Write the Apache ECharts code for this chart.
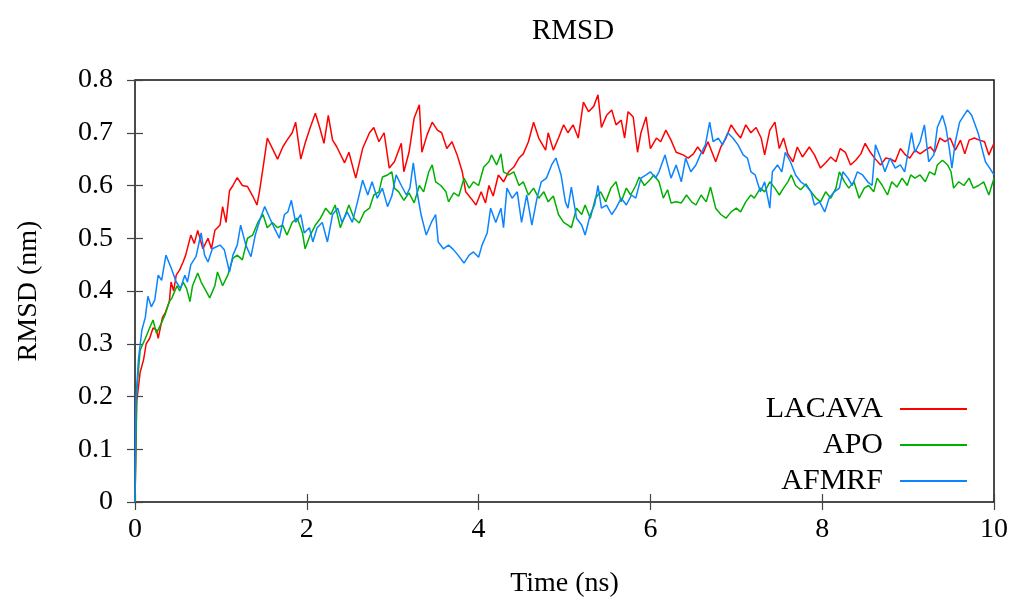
<!DOCTYPE html>
<html>
<head>
<meta charset="utf-8">
<title>RMSD</title>
<script src="https://cdn.jsdelivr.net/npm/echarts@6/dist/echarts.min.js"></script>
<style>
    html, body { margin: 0; padding: 0; background: #fff; }
    #main { width: 1011px; height: 603px; }
</style>
</head>
<body>
<div id="main"></div>
<script>
// time (ns) / rmsd (nm)
var lacavaTime = [0,0.02,0.06,0.1,0.13,0.17,0.21,0.25,0.27,0.32,0.35,0.4,0.42,0.45,0.48,0.52,0.56,0.59,0.65,0.69,0.73,0.79,0.85,0.89,0.93,0.99,
    1.02,1.06,1.1,1.14,1.19,1.25,1.31,1.37,1.42,1.45,1.49,1.54,1.6,1.66,1.72,1.77,1.83,1.87,1.93,1.98,
    2.04,2.1,2.15,2.2,2.25,2.3,2.35,2.44,2.49,2.57,2.65,2.73,2.78,2.84,2.9,2.96,
    3.02,3.1,3.13,3.19,3.25,3.31,3.34,3.4,3.46,3.52,3.57,3.63,3.69,3.75,3.81,3.85,3.91,3.97,
    4.03,4.08,4.12,4.17,4.23,4.29,4.35,4.41,4.47,4.52,4.58,4.64,4.7,4.78,4.81,4.87,4.93,4.99,
    5.04,5.1,5.16,5.22,5.28,5.34,5.39,5.43,5.49,5.55,5.6,5.66,5.7,5.74,5.8,5.85,5.89,5.95,
    6,6.07,6.12,6.18,6.24,6.3,6.38,6.44,6.5,6.55,6.61,6.67,6.73,6.76,6.82,6.88,6.94,
    7,7.05,7.11,7.17,7.23,7.29,7.33,7.39,7.45,7.5,7.55,7.6,7.66,7.71,7.77,7.85,7.91,7.98,
    8.04,8.1,8.16,8.21,8.27,8.33,8.39,8.45,8.5,8.56,8.62,8.68,8.74,8.8,8.85,8.91,8.97,
    9.02,9.08,9.14,9.2,9.26,9.31,9.37,9.43,9.49,9.55,9.61,9.66,9.71,9.77,9.83,9.89,9.94,10];
var lacavaRmsd = [0,0.19,0.246,0.27,0.3,0.31,0.33,0.326,0.31,0.35,0.358,0.38,0.417,0.4,0.43,0.44,0.455,0.468,0.506,0.49,0.515,0.48,0.5,0.48,0.515,0.525,
    0.56,0.53,0.59,0.6,0.615,0.6,0.598,0.58,0.563,0.59,0.633,0.69,0.67,0.65,0.673,0.686,0.7,0.72,0.65,0.68,
    0.71,0.737,0.71,0.68,0.733,0.686,0.673,0.643,0.663,0.614,0.67,0.7,0.71,0.683,0.7,0.633,
    0.645,0.68,0.626,0.663,0.728,0.753,0.663,0.696,0.72,0.705,0.7,0.67,0.683,0.658,0.626,0.588,0.576,0.563,
    0.588,0.567,0.6,0.58,0.62,0.607,0.626,0.635,0.652,0.66,0.683,0.72,0.69,0.667,0.7,0.667,0.69,0.715,
    0.7,0.715,0.69,0.758,0.74,0.75,0.772,0.71,0.733,0.743,0.715,0.724,0.69,0.74,0.73,0.663,0.7,0.73,
    0.67,0.69,0.683,0.705,0.686,0.663,0.658,0.652,0.66,0.673,0.66,0.683,0.658,0.645,0.673,0.69,0.715,
    0.7,0.69,0.715,0.7,0.71,0.69,0.658,0.705,0.72,0.67,0.69,0.66,0.645,0.673,0.654,0.673,0.658,0.633,
    0.643,0.654,0.645,0.67,0.663,0.639,0.648,0.66,0.68,0.663,0.65,0.639,0.652,0.65,0.645,0.67,0.658,
    0.652,0.667,0.66,0.667,0.673,0.663,0.69,0.683,0.69,0.667,0.686,0.66,0.686,0.69,0.686,0.683,0.658,0.68];

var apoTime = [0,0.02,0.06,0.12,0.17,0.21,0.25,0.31,0.35,0.4,0.43,0.49,0.52,0.56,0.6,0.64,0.67,0.73,0.77,0.81,0.87,0.93,0.96,
    1.02,1.08,1.14,1.19,1.25,1.31,1.37,1.43,1.49,1.54,1.6,1.66,1.72,1.77,1.83,1.89,1.95,1.98,
    2.04,2.1,2.16,2.22,2.28,2.33,2.39,2.45,2.49,2.55,2.61,2.67,2.73,2.78,2.84,2.88,2.94,2.99,
    3.02,3.07,3.13,3.19,3.25,3.31,3.36,3.42,3.46,3.5,3.56,3.62,3.65,3.71,3.77,3.83,3.89,3.94,
    4,4.06,4.12,4.15,4.21,4.26,4.29,4.35,4.41,4.47,4.52,4.58,4.64,4.7,4.76,4.81,4.87,4.93,4.99,
    5.04,5.08,5.14,5.2,5.24,5.3,5.36,5.42,5.48,5.54,5.6,5.66,5.72,5.77,5.83,5.87,5.93,5.99,
    6.04,6.1,6.15,6.2,6.24,6.3,6.36,6.42,6.48,6.53,6.59,6.65,6.7,6.76,6.82,6.88,6.94,
    7,7.05,7.11,7.17,7.21,7.28,7.33,7.39,7.45,7.5,7.55,7.6,7.64,7.69,7.75,7.81,7.87,7.93,7.98,
    8.04,8.1,8.16,8.2,8.26,8.31,8.37,8.43,8.49,8.54,8.6,8.64,8.7,8.76,8.81,8.87,8.93,8.99,
    9.03,9.08,9.14,9.2,9.25,9.31,9.34,9.4,9.46,9.5,9.53,9.59,9.65,9.71,9.76,9.82,9.88,9.94,10];
var apoRmsd = [0,0.21,0.288,0.31,0.33,0.345,0.32,0.34,0.355,0.38,0.387,0.41,0.4,0.417,0.405,0.38,0.41,0.434,0.417,0.405,0.387,0.41,0.436,
    0.41,0.43,0.462,0.468,0.459,0.5,0.506,0.53,0.545,0.52,0.53,0.52,0.525,0.506,0.53,0.538,0.51,0.48,
    0.506,0.525,0.538,0.557,0.545,0.563,0.52,0.545,0.563,0.538,0.529,0.55,0.557,0.582,0.588,0.616,0.62,0.626,
    0.595,0.588,0.572,0.586,0.567,0.6,0.588,0.626,0.639,0.607,0.6,0.588,0.569,0.586,0.58,0.614,0.595,0.607,
    0.6,0.635,0.645,0.658,0.639,0.66,0.626,0.62,0.626,0.6,0.607,0.582,0.595,0.576,0.588,0.569,0.58,0.545,0.53,
    0.525,0.52,0.557,0.545,0.563,0.538,0.576,0.588,0.569,0.595,0.607,0.569,0.595,0.582,0.6,0.616,0.6,0.61,
    0.62,0.607,0.576,0.592,0.567,0.569,0.567,0.582,0.569,0.563,0.582,0.569,0.597,0.557,0.545,0.538,0.55,
    0.557,0.55,0.569,0.582,0.576,0.595,0.588,0.607,0.595,0.582,0.595,0.607,0.62,0.6,0.592,0.603,0.588,0.576,0.569,
    0.588,0.576,0.595,0.626,0.607,0.595,0.607,0.576,0.595,0.6,0.588,0.614,0.6,0.582,0.607,0.597,0.614,0.6,
    0.62,0.614,0.62,0.607,0.626,0.62,0.639,0.648,0.639,0.626,0.595,0.607,0.6,0.614,0.595,0.6,0.607,0.582,0.614];

var afmrfTime = [0,0.01,0.04,0.08,0.12,0.15,0.19,0.23,0.27,0.31,0.36,0.42,0.48,0.53,0.58,0.61,0.65,0.71,0.77,0.81,0.85,0.9,0.99,
    1.04,1.1,1.14,1.19,1.23,1.29,1.35,1.4,1.46,1.51,1.57,1.62,1.68,1.74,1.78,1.82,1.87,1.93,1.97,
    2.03,2.07,2.12,2.18,2.24,2.3,2.36,2.41,2.47,2.53,2.59,2.65,2.71,2.76,2.82,2.88,2.94,2.99,
    3.04,3.1,3.16,3.2,3.24,3.29,3.33,3.39,3.45,3.5,3.53,3.59,3.65,3.71,3.76,3.83,3.89,3.94,
    4,4.04,4.1,4.14,4.2,4.26,4.29,4.33,4.39,4.45,4.5,4.56,4.62,4.68,4.73,4.79,4.85,4.9,4.96,
    5.01,5.04,5.08,5.14,5.2,5.24,5.3,5.35,5.39,5.43,5.49,5.55,5.6,5.66,5.72,5.78,5.83,5.89,5.95,
    6,6.06,6.1,6.17,6.2,6.24,6.3,6.36,6.41,6.47,6.53,6.58,6.64,6.69,6.73,6.79,6.84,6.9,6.96,
    7.02,7.08,7.13,7.17,7.22,7.28,7.33,7.39,7.42,7.48,7.53,7.57,7.63,7.69,7.75,7.81,7.87,7.91,7.97,
    8.03,8.08,8.14,8.2,8.24,8.3,8.35,8.41,8.47,8.53,8.58,8.62,8.68,8.73,8.79,8.85,8.91,8.96,
    9,9.04,9.08,9.14,9.19,9.24,9.3,9.34,9.4,9.44,9.48,9.51,9.55,9.6,9.65,9.69,9.74,9.78,9.82,9.86,9.9,9.95,10];
var afmrfRmsd = [0,0.19,0.27,0.326,0.35,0.39,0.37,0.383,0.43,0.42,0.468,0.444,0.417,0.405,0.43,0.417,0.45,0.465,0.51,0.468,0.455,0.48,0.487,
    0.478,0.436,0.468,0.487,0.525,0.487,0.465,0.506,0.538,0.56,0.538,0.52,0.5,0.545,0.55,0.572,0.53,0.545,0.51,
    0.52,0.493,0.52,0.53,0.493,0.545,0.557,0.53,0.55,0.53,0.569,0.61,0.582,0.607,0.576,0.595,0.56,0.58,
    0.62,0.6,0.582,0.595,0.643,0.582,0.545,0.506,0.53,0.545,0.493,0.48,0.487,0.478,0.468,0.453,0.468,0.474,
    0.464,0.487,0.51,0.557,0.53,0.557,0.52,0.595,0.576,0.588,0.53,0.582,0.525,0.576,0.607,0.614,0.639,0.652,0.62,
    0.569,0.557,0.597,0.538,0.525,0.506,0.545,0.563,0.6,0.557,0.563,0.545,0.557,0.576,0.563,0.582,0.576,0.614,0.62,
    0.626,0.614,0.626,0.658,0.639,0.614,0.639,0.607,0.652,0.626,0.639,0.658,0.677,0.72,0.683,0.69,0.677,0.7,0.69,
    0.677,0.658,0.652,0.626,0.62,0.588,0.607,0.557,0.626,0.639,0.626,0.663,0.645,0.62,0.607,0.6,0.588,0.563,0.569,
    0.55,0.576,0.588,0.595,0.626,0.614,0.6,0.626,0.62,0.607,0.6,0.677,0.652,0.626,0.652,0.633,0.639,0.626,
    0.663,0.7,0.663,0.683,0.715,0.645,0.658,0.71,0.733,0.71,0.67,0.633,0.683,0.72,0.733,0.743,0.733,0.715,0.697,0.67,0.645,0.633,0.62];

var xTicks = [0, 2, 4, 6, 8, 10];
var yTicks = [0, 0.1, 0.2, 0.3, 0.4, 0.5, 0.6, 0.7, 0.8];

function pairs(t, v) {
    var out = [];
    for (var i = 0; i < t.length; i++) out.push([t[i], v[i]]);
    return out;
}

var font = 'Liberation Serif';
var chart = echarts.init(document.getElementById('main'));

// tick marks pointing inwards on all four sides, like gnuplot
var baseX = {
    type: 'value',
    min: xTicks[0], max: xTicks[xTicks.length - 1], interval: 2,
    axisLine: { show: false },
    axisTick: { inside: true, length: 8, lineStyle: { color: '#444', width: 1.2 } },
    splitLine: { show: false }
};
var baseY = {
    type: 'value',
    min: yTicks[0], max: yTicks[yTicks.length - 1], interval: 0.1,
    axisLine: { show: false },
    axisTick: { inside: true, length: 8, lineStyle: { color: '#444', width: 1.2 } },
    splitLine: { show: false }
};

chart.setOption({
    backgroundColor: '#fff',
    animation: false,
    title: {
        text: 'RMSD',
        left: 568, top: 12, textAlign: 'center',
        textStyle: { fontFamily: font, fontSize: 29, fontWeight: 'normal', color: '#000' }
    },
    grid: {
        left: 135, right: 14, top: 80, bottom: 101,
        show: true, borderColor: '#111', borderWidth: 1.5, backgroundColor: 'transparent'
    },
    legend: {
        orient: 'vertical',
        right: 39, top: 389,
        align: 'right',
        itemWidth: 67, itemHeight: 2, itemGap: 6,
        icon: 'rect',
        textStyle: { fontFamily: font, fontSize: 30, color: '#000', lineHeight: 29, padding: [0, 12, 0, 0] },
        data: ['LACAVA', 'APO', 'AFMRF']
    },
    xAxis: [
        Object.assign({}, baseX, {
            position: 'bottom',
            name: 'Time (ns)', nameLocation: 'middle', nameGap: 68,
            nameTextStyle: { fontFamily: font, fontSize: 28, color: '#000' },
            axisLabel: { margin: 14, fontFamily: font, fontSize: 28, color: '#000' }
        }),
        Object.assign({}, baseX, { position: 'top', axisLabel: { show: false } })
    ],
    yAxis: [
        Object.assign({}, baseY, {
            position: 'left',
            name: 'RMSD (nm)', nameLocation: 'middle', nameGap: 92,
            nameTextStyle: { fontFamily: font, fontSize: 28, color: '#000' },
            axisLabel: {
                margin: 22, fontFamily: font, fontSize: 28, color: '#000',
                formatter: function (v) { return v === 0 ? '0' : v.toFixed(1); }
            }
        }),
        Object.assign({}, baseY, { position: 'right', axisLabel: { show: false } })
    ],
    series: [
        {
            name: 'LACAVA', type: 'line', showSymbol: false, data: pairs(lacavaTime, lacavaRmsd),
            itemStyle: { color: '#ff0000' }, lineStyle: { color: '#ff0000', width: 1.5 }
        },
        {
            name: 'APO', type: 'line', showSymbol: false, data: pairs(apoTime, apoRmsd),
            itemStyle: { color: '#00b000' }, lineStyle: { color: '#00b000', width: 1.5 }
        },
        {
            name: 'AFMRF', type: 'line', showSymbol: false, data: pairs(afmrfTime, afmrfRmsd),
            itemStyle: { color: '#0a84ff' }, lineStyle: { color: '#0a84ff', width: 1.5 }
        }
    ]
});

window.onresize = chart.resize;
</script>
</body>
</html>
